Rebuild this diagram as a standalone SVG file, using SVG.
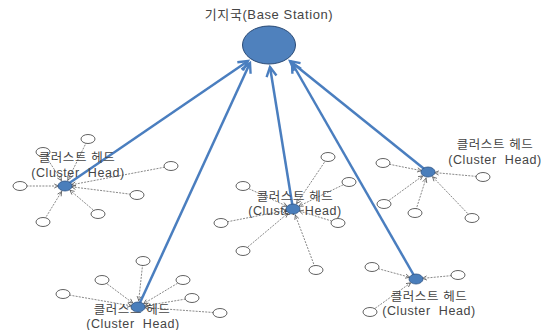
<svg xmlns="http://www.w3.org/2000/svg" width="550" height="330" viewBox="0 0 550 330">
<style>
.bg{fill:#ffffff}
.lbl{font-family:"Liberation Sans","Noto Sans CJK KR",sans-serif;font-size:12.5px;letter-spacing:0.6px;fill:#454545;text-anchor:middle}
.ttl{font-family:"Liberation Sans","Noto Sans CJK KR",sans-serif;font-size:13px;letter-spacing:0.6px;fill:#454545;text-anchor:middle}
.sn{fill:#ffffff;stroke:#3a3a3a;stroke-width:0.8}
.ch{fill:#4a7ebb;stroke:#2f5485;stroke-width:0.8}
.bs{fill:#4f81bd;stroke:#2a4a75;stroke-width:1}
.big{stroke:#4a7ebf;stroke-width:2.5;fill:none;marker-end:url(#bigArrow)}
.sm{stroke:#6a6a6a;stroke-width:0.8;stroke-dasharray:2 1.2;fill:none;marker-end:url(#smArrow)}
</style>
<defs>
<marker id="bigArrow" viewBox="0 0 12 12" markerWidth="12" markerHeight="12" markerUnits="userSpaceOnUse" refX="10.5" refY="6" orient="auto" overflow="visible">
<path d="M1,1 L10.5,6 L1,11" fill="none" stroke="#4a7ebf" stroke-width="2.4" stroke-linejoin="miter"/>
</marker>
<marker id="smArrow" viewBox="0 0 10 10" markerWidth="6" markerHeight="6" markerUnits="userSpaceOnUse" refX="19" refY="5" orient="auto" overflow="visible">
<path d="M1,1.5 L8,5 L1,8.5" fill="none" stroke="#555555" stroke-width="1.3"/>
</marker>
</defs>
<rect class="bg" x="0" y="0" width="550" height="330"/>

<g id="connectors">
<!-- cluster 1 -->
<line class="sm" x1="88" y1="139" x2="65" y2="186"/>
<line class="sm" x1="43" y1="152" x2="65" y2="186"/>
<line class="sm" x1="20" y1="186" x2="65" y2="186"/>
<line class="sm" x1="171" y1="166" x2="65" y2="186"/>
<line class="sm" x1="137" y1="195" x2="65" y2="186"/>
<line class="sm" x1="98" y1="214" x2="65" y2="186"/>
<line class="sm" x1="43" y1="222" x2="65" y2="186"/>
<!-- cluster 2 -->
<line class="sm" x1="383" y1="163" x2="428" y2="172"/>
<line class="sm" x1="483" y1="177" x2="428" y2="172"/>
<line class="sm" x1="384" y1="204" x2="428" y2="172"/>
<line class="sm" x1="415" y1="213" x2="428" y2="172"/>
<line class="sm" x1="472" y1="218" x2="428" y2="172"/>
<!-- cluster 3 -->
<line class="sm" x1="328" y1="157" x2="293" y2="209"/>
<line class="sm" x1="349" y1="182" x2="293" y2="209"/>
<line class="sm" x1="243" y1="186" x2="293" y2="209"/>
<line class="sm" x1="221" y1="223" x2="293" y2="209"/>
<line class="sm" x1="338" y1="223" x2="293" y2="209"/>
<line class="sm" x1="243" y1="251" x2="293" y2="209"/>
<line class="sm" x1="316" y1="270" x2="293" y2="209"/>
<!-- cluster 4 -->
<line class="sm" x1="143" y1="261" x2="138" y2="307"/>
<line class="sm" x1="102" y1="280" x2="138" y2="307"/>
<line class="sm" x1="183" y1="280" x2="138" y2="307"/>
<line class="sm" x1="63" y1="294" x2="138" y2="307"/>
<line class="sm" x1="192" y1="298" x2="138" y2="307"/>
<line class="sm" x1="220" y1="313" x2="138" y2="307"/>
<!-- cluster 5 -->
<line class="sm" x1="372" y1="267" x2="416" y2="279"/>
<line class="sm" x1="458" y1="275" x2="416" y2="279"/>
<line class="sm" x1="370" y1="312" x2="416" y2="279"/>
<!-- cluster heads to base station -->
<line class="big" x1="65" y1="186" x2="248" y2="61"/>
<line class="big" x1="138" y1="307" x2="250" y2="63"/>
<line class="big" x1="293" y1="209" x2="270" y2="67"/>
<line class="big" x1="428" y1="172" x2="290" y2="61"/>
<line class="big" x1="416" y1="279" x2="292" y2="63"/>
</g>

<g id="base-station">
<ellipse class="bs" cx="269" cy="45" rx="26.5" ry="19"/>
<text class="ttl" x="269" y="19">기지국(Base Station)</text>
</g>

<g id="cluster1-members">
<ellipse class="sn" cx="88" cy="139" rx="7" ry="4.5"/>
<ellipse class="sn" cx="43" cy="152" rx="7" ry="4.5"/>
<ellipse class="sn" cx="20" cy="186" rx="7" ry="4.5"/>
<ellipse class="sn" cx="171" cy="166" rx="7" ry="4.5"/>
<ellipse class="sn" cx="137" cy="195" rx="7" ry="4.5"/>
<ellipse class="sn" cx="98" cy="214" rx="7" ry="4.5"/>
<ellipse class="sn" cx="43" cy="222" rx="7" ry="4.5"/>
</g>
<g id="cluster1-head">
<text class="lbl" x="77" y="162">클러스트 헤드</text>
<text class="lbl" x="78" y="177" xml:space="preserve">(Cluster  Head)</text>
<ellipse class="ch" cx="65" cy="186" rx="7" ry="5"/>
</g>

<g id="cluster2-members">
<ellipse class="sn" cx="383" cy="163" rx="7" ry="4.5"/>
<ellipse class="sn" cx="483" cy="177" rx="7" ry="4.5"/>
<ellipse class="sn" cx="384" cy="204" rx="7" ry="4.5"/>
<ellipse class="sn" cx="415" cy="213" rx="7" ry="4.5"/>
<ellipse class="sn" cx="472" cy="218" rx="7" ry="4.5"/>
</g>
<g id="cluster2-head">
<text class="lbl" x="495" y="149">클러스트 헤드</text>
<text class="lbl" x="495" y="164" xml:space="preserve">(Cluster  Head)</text>
<ellipse class="ch" cx="428" cy="172" rx="7" ry="5"/>
</g>

<g id="cluster3-members">
<ellipse class="sn" cx="328" cy="157" rx="7" ry="4.5"/>
<ellipse class="sn" cx="349" cy="182" rx="7" ry="4.5"/>
<ellipse class="sn" cx="243" cy="186" rx="7" ry="4.5"/>
<ellipse class="sn" cx="221" cy="223" rx="7" ry="4.5"/>
<ellipse class="sn" cx="338" cy="223" rx="7" ry="4.5"/>
<ellipse class="sn" cx="243" cy="251" rx="7" ry="4.5"/>
<ellipse class="sn" cx="316" cy="270" rx="7" ry="4.5"/>
</g>
<g id="cluster3-head">
<text class="lbl" x="295" y="201">클러스트 헤드</text>
<text class="lbl" x="295" y="215" xml:space="preserve">(Cluster  Head)</text>
<ellipse class="ch" cx="293" cy="209" rx="7" ry="5"/>
</g>

<g id="cluster4-members">
<ellipse class="sn" cx="143" cy="261" rx="7" ry="4.5"/>
<ellipse class="sn" cx="102" cy="280" rx="7" ry="4.5"/>
<ellipse class="sn" cx="183" cy="280" rx="7" ry="4.5"/>
<ellipse class="sn" cx="63" cy="294" rx="7" ry="4.5"/>
<ellipse class="sn" cx="192" cy="298" rx="7" ry="4.5"/>
<ellipse class="sn" cx="220" cy="313" rx="7" ry="4.5"/>
</g>
<g id="cluster4-head">
<text class="lbl" x="132" y="314">클러스트 헤드</text>
<text class="lbl" x="133" y="328" xml:space="preserve">(Cluster  Head)</text>
<ellipse class="ch" cx="138" cy="307" rx="7" ry="5"/>
</g>

<g id="cluster5-members">
<ellipse class="sn" cx="372" cy="267" rx="7" ry="4.5"/>
<ellipse class="sn" cx="458" cy="275" rx="7" ry="4.5"/>
<ellipse class="sn" cx="370" cy="312" rx="7" ry="4.5"/>
</g>
<g id="cluster5-head">
<text class="lbl" x="429" y="301">클러스트 헤드</text>
<text class="lbl" x="429" y="315" xml:space="preserve">(Cluster  Head)</text>
<ellipse class="ch" cx="416" cy="279" rx="7" ry="5"/>
</g>
</svg>
